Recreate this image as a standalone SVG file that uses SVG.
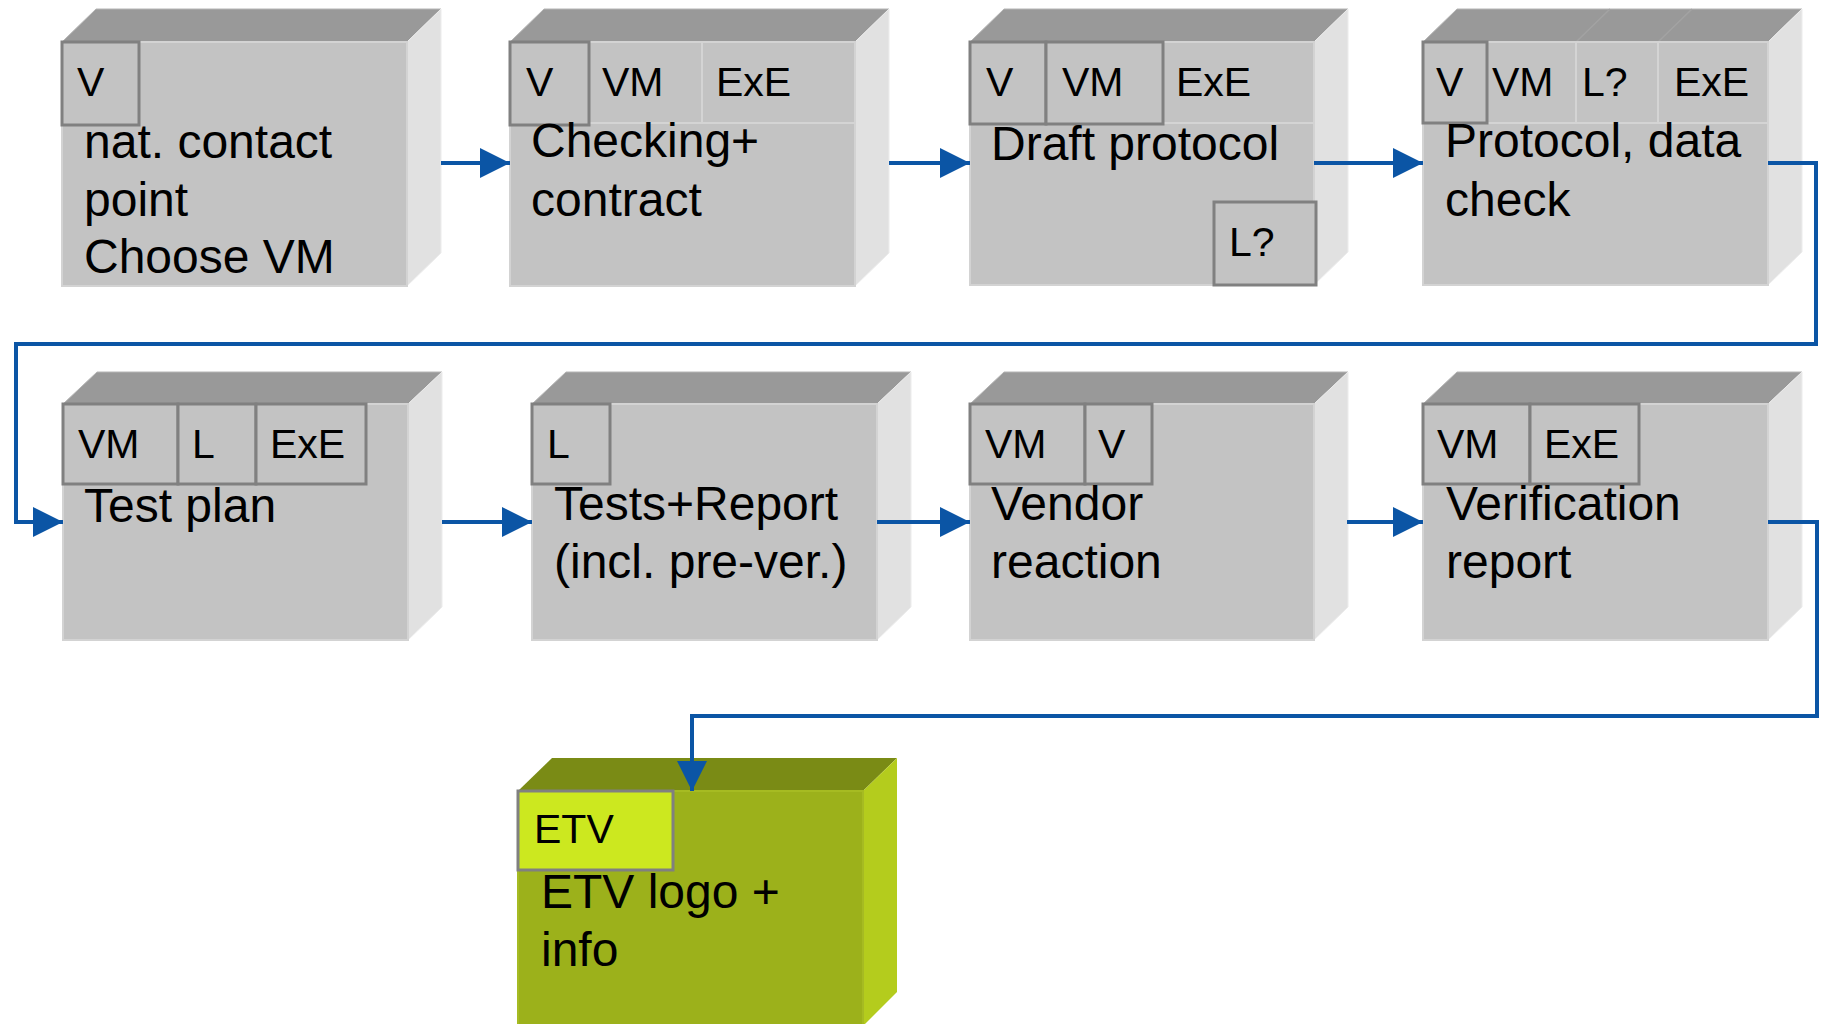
<svg xmlns="http://www.w3.org/2000/svg" width="1825" height="1024" viewBox="0 0 1825 1024">
<style>
  text { font-family: "Liberation Sans", Arial, sans-serif; fill: #000; }
  .main { font-size: 48px; }
  .tagt { font-size: 41px; }
  .front { fill: #c3c3c3; stroke: #d3d3d3; stroke-width: 2; }
  .top { fill: #999999; stroke: #b5b5b5; stroke-width: 1; }
  .side { fill: #e1e1e1; stroke: #ececec; stroke-width: 1; }
  .tag { fill: #c3c3c3; stroke: #808080; stroke-width: 3; }
  .sep { stroke: #d4d4d4; stroke-width: 2; fill: none; }
  .gfront { fill: #9cb11b; stroke: #a6bb22; stroke-width: 2; }
  .gtop { fill: #7a8b15; }
  .gside { fill: #b4cc1d; }
  .gtag { fill: #cce81f; stroke: #808080; stroke-width: 3; }
  .conn { stroke: #0b55a5; stroke-width: 4; fill: none; }
</style>
<defs>
  <marker id="arr" markerUnits="userSpaceOnUse" markerWidth="30" markerHeight="30" refX="30" refY="15" orient="auto">
    <path d="M0,0 L30,15 L0,30 z" fill="#0b55a5"/>
  </marker>
</defs>
<rect width="1825" height="1024" fill="#ffffff"/>

<g id="node-contact">
  <polygon class="top" points="62,42 96,9 441,9 407,42"/>
  <polygon class="side" points="407,42 441,9 441,253 407,286"/>
  <rect class="front" x="62" y="42" width="345" height="244"/>
  <rect class="tag" x="62" y="42" width="77" height="83"/>
  <text class="tagt" x="77" y="96">V</text>
  <text class="main" x="84" y="158">nat. contact</text>
  <text class="main" x="84" y="216">point</text>
  <text class="main" x="84" y="273">Choose VM</text>
</g>

<g id="node-checking">
  <polygon class="top" points="510,42 544,9 889,9 855,42"/>
  <polygon class="side" points="855,42 889,9 889,253 855,286"/>
  <rect class="front" x="510" y="42" width="345" height="244"/>
  <path class="sep" d="M589,123 H855 M702,42 V123"/>
  <rect class="tag" x="510" y="42" width="79" height="83"/>
  <text class="tagt" x="526" y="96">V</text>
  <text class="tagt" x="602" y="96">VM</text>
  <text class="tagt" x="716" y="96">ExE</text>
  <text class="main" x="531" y="157">Checking+</text>
  <text class="main" x="531" y="216">contract</text>
</g>

<g id="node-draft">
  <polygon class="top" points="970,42 1004,9 1348,9 1314,42"/>
  <polygon class="side" points="1314,42 1348,9 1348,252 1314,285"/>
  <rect class="front" x="970" y="42" width="344" height="243"/>
  <path class="sep" d="M1163,123 H1314"/>
  <rect class="tag" x="970" y="42" width="76" height="82"/>
  <rect class="tag" x="1046" y="42" width="117" height="82"/>
  <rect class="tag" x="1214" y="202" width="102" height="83"/>
  <text class="tagt" x="986" y="96">V</text>
  <text class="tagt" x="1062" y="96">VM</text>
  <text class="tagt" x="1176" y="96">ExE</text>
  <text class="tagt" x="1229" y="256">L?</text>
  <text class="main" x="991" y="160">Draft protocol</text>
</g>

<g id="node-protocol">
  <polygon class="top" points="1423,42 1457,9 1802,9 1768,42"/>
  <path d="M1576,42 L1610,9 M1658,42 L1692,9" stroke="#a3a3a3" stroke-width="1.5"/>
  <polygon class="side" points="1768,42 1802,9 1802,252 1768,285"/>
  <rect class="front" x="1423" y="42" width="345" height="243"/>
  <path class="sep" d="M1487,123 H1768 M1576,42 V123 M1658,42 V123"/>
  <rect class="tag" x="1423" y="42" width="64" height="81"/>
  <text class="tagt" x="1436" y="96">V</text>
  <text class="tagt" x="1492" y="96">VM</text>
  <text class="tagt" x="1582" y="96">L?</text>
  <text class="tagt" x="1674" y="96">ExE</text>
  <text class="main" x="1445" y="157">Protocol, data</text>
  <text class="main" x="1445" y="216">check</text>
</g>

<g id="node-testplan">
  <polygon class="top" points="63,404 97,372 442,372 408,404"/>
  <polygon class="side" points="408,404 442,372 442,607 408,640"/>
  <rect class="front" x="63" y="404" width="345" height="236"/>
  <rect class="tag" x="63" y="404" width="115" height="80"/>
  <rect class="tag" x="178" y="404" width="78" height="80"/>
  <rect class="tag" x="256" y="404" width="110" height="80"/>
  <text class="tagt" x="78" y="458">VM</text>
  <text class="tagt" x="192" y="458">L</text>
  <text class="tagt" x="270" y="458">ExE</text>
  <text class="main" x="84" y="522">Test plan</text>
</g>

<g id="node-tests">
  <polygon class="top" points="532,404 566,372 911,372 877,404"/>
  <polygon class="side" points="877,404 911,372 911,607 877,640"/>
  <rect class="front" x="532" y="404" width="345" height="236"/>
  <rect class="tag" x="532" y="404" width="78" height="80"/>
  <text class="tagt" x="547" y="458">L</text>
  <text class="main" x="554" y="520">Tests+Report</text>
  <text class="main" x="554" y="578">(incl. pre-ver.)</text>
</g>

<g id="node-vendor">
  <polygon class="top" points="970,404 1004,372 1348,372 1314,404"/>
  <polygon class="side" points="1314,404 1348,372 1348,607 1314,640"/>
  <rect class="front" x="970" y="404" width="344" height="236"/>
  <rect class="tag" x="970" y="404" width="115" height="80"/>
  <rect class="tag" x="1085" y="404" width="67" height="80"/>
  <text class="tagt" x="985" y="458">VM</text>
  <text class="tagt" x="1098" y="458">V</text>
  <text class="main" x="991" y="520">Vendor</text>
  <text class="main" x="991" y="578">reaction</text>
</g>

<g id="node-verification">
  <polygon class="top" points="1423,404 1457,372 1802,372 1768,404"/>
  <polygon class="side" points="1768,404 1802,372 1802,607 1768,640"/>
  <rect class="front" x="1423" y="404" width="345" height="236"/>
  <rect class="tag" x="1423" y="404" width="107" height="80"/>
  <rect class="tag" x="1530" y="404" width="109" height="80"/>
  <text class="tagt" x="1437" y="458">VM</text>
  <text class="tagt" x="1544" y="458">ExE</text>
  <text class="main" x="1446" y="520">Verification</text>
  <text class="main" x="1446" y="578">report</text>
</g>

<g id="node-etv">
  <polygon class="gtop" points="518,791 552,758 897,758 863,791"/>
  <polygon class="gside" points="863,791 897,758 897,992 863,1026"/>
  <rect class="gfront" x="518" y="791" width="345" height="240"/>
  <rect class="gtag" x="518" y="791" width="155" height="79"/>
  <text class="tagt" x="534" y="843">ETV</text>
  <text class="main" x="541" y="908">ETV logo +</text>
  <text class="main" x="541" y="966">info</text>
</g>

<g id="connectors">
  <path class="conn" d="M441,163 H510" marker-end="url(#arr)"/>
  <path class="conn" d="M889,163 H970" marker-end="url(#arr)"/>
  <path class="conn" d="M1314,163 H1423" marker-end="url(#arr)"/>
  <path class="conn" d="M1768,163 H1816 V344 H16 V522 H63" marker-end="url(#arr)"/>
  <path class="conn" d="M442,522 H532" marker-end="url(#arr)"/>
  <path class="conn" d="M877,522 H970" marker-end="url(#arr)"/>
  <path class="conn" d="M1347,522 H1423" marker-end="url(#arr)"/>
  <path class="conn" d="M1768,522 H1817 V716 H692 V791" marker-end="url(#arr)"/>
</g>
</svg>
